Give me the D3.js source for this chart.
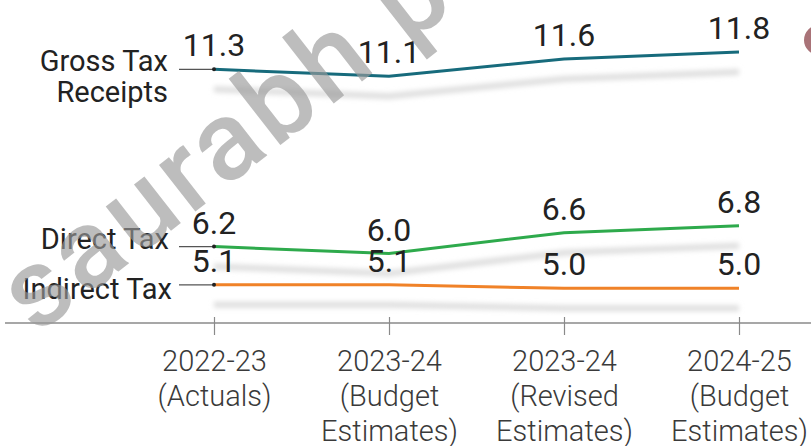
<!DOCTYPE html>
<html>
<head>
<meta charset="utf-8">
<script src="https://cdn.jsdelivr.net/npm/d3@7"></script>
<style>
  html, body { margin: 0; padding: 0; background: #fff; }
  svg { display: block; }
  text { font-family: Roboto, "Noto Sans", sans-serif; }
</style>
</head>
<body>
<div id="chart"></div>
<script>
// data (per cent of GDP)
var categories = ["2022-23|(Actuals)", "2023-24|(Budget|Estimates)", "2023-24|(Revised|Estimates)", "2024-25|(Budget|Estimates)"];
var seriesNames = ["Gross Tax|Receipts", "Direct Tax", "Indirect Tax"];
var grossTax = [11.3, 11.1, 11.6, 11.8];
var directTax = [6.2, 6.0, 6.6, 6.8];
var indirectTax = [5.1, 5.1, 5.0, 5.0];
var yDomain = [4, 12];

var width = 811,
    height = 446,
    axisY = 323;

var series = [
    { name: seriesNames[0], values: grossTax, color: "#176b7c", labelDy: 2, labelX: 168 },
    { name: seriesNames[1], values: directTax, color: "#2eaa4c", labelDy: 2, labelX: 169 },
    { name: seriesNames[2], values: indirectTax, color: "#f08228", labelDy: 14, labelX: 172 }
];

var svg = d3.select("#chart").append("svg")
    .attr("width", width)
    .attr("height", height);

var defs = svg.append("defs");
defs.append("filter")
    .attr("id", "blur")
    .attr("x", "-10%").attr("y", "-200%")
    .attr("width", "120%").attr("height", "500%")
    .append("feGaussianBlur")
    .attr("stdDeviation", 2.5);

var xScale = d3.scalePoint()
    .domain(categories)
    .range([214, 739]);

var yScale = d3.scaleLinear()
    .domain(yDomain)
    .range([axisY, 45]);

var line = d3.line()
    .x(function (d, i) { return xScale(categories[i]); })
    .y(function (d) { return yScale(d); });

// decoration at top right
svg.append("circle")
    .attr("cx", 819).attr("cy", 40).attr("r", 15)
    .attr("fill", "#a97378");

// soft shadows under the lines
svg.append("g").selectAll("path")
    .data(series)
    .enter().append("path")
    .attr("d", function (d) { return line(d.values); })
    .attr("transform", "translate(0,20)")
    .attr("fill", "none")
    .attr("stroke", "#dedede")
    .attr("stroke-width", 6)
    .attr("filter", "url(#blur)");

// x axis
svg.append("line")
    .attr("x1", 5).attr("x2", width)
    .attr("y1", axisY).attr("y2", axisY)
    .attr("stroke", "#8a8a8a")
    .attr("stroke-width", 1.5);

var xAxis = d3.axisBottom(xScale)
    .tickSize(18)
    .tickPadding(0)
    .tickFormat("");

var gx = svg.append("g")
    .attr("transform", "translate(0," + (axisY - 6) + ")")
    .call(xAxis);
gx.select(".domain").remove();
gx.selectAll(".tick line").attr("stroke", "#8a8a8a").attr("stroke-width", 1.2);

gx.selectAll(".tick").append("text")
    .attr("text-anchor", "middle")
    .attr("fill", "#3a3a3a")
    .attr("font-size", 29)
    .attr("font-weight", 300)
    .selectAll("tspan")
    .data(function (d) { return d.split("|"); })
    .enter().append("tspan")
    .attr("x", 0)
    .attr("y", function (d, i) { return 54 + i * 35; })
    .text(function (d) { return d; });

// leader lines and series names
var labels = svg.append("g");
series.forEach(function (s) {
    var y0 = yScale(s.values[0]);
    labels.append("line")
        .attr("x1", 179).attr("x2", xScale(categories[0]))
        .attr("y1", y0).attr("y2", y0)
        .attr("stroke", "#555")
        .attr("stroke-width", 1.2);
    labels.append("text")
        .attr("text-anchor", "end")
        .attr("fill", "#222")
        .attr("font-size", 29)
        .selectAll("tspan")
        .data(s.name.split("|"))
        .enter().append("tspan")
        .attr("x", s.labelX)
        .attr("y", function (d, i) { return y0 + s.labelDy + i * 31; })
        .text(function (d) { return d; });
});

// lines
svg.append("g").selectAll("path")
    .data(series)
    .enter().append("path")
    .attr("d", function (d) { return line(d.values); })
    .attr("fill", "none")
    .attr("stroke", function (d) { return d.color; })
    .attr("stroke-width", 3);

svg.append("g").selectAll("circle")
    .data(series)
    .enter().append("circle")
    .attr("cx", xScale(categories[0]))
    .attr("cy", function (d) { return yScale(d.values[0]); })
    .attr("r", 2)
    .attr("fill", "#222");

// value labels
series.forEach(function (s) {
    svg.append("g").selectAll("text")
        .data(s.values)
        .enter().append("text")
        .attr("x", function (d, i) { return xScale(categories[i]); })
        .attr("y", function (d) { return yScale(d) - 13; })
        .attr("text-anchor", "middle")
        .attr("fill", "#222")
        .attr("font-size", 32)
        .text(function (d) { return d.toFixed(1); });
});

// watermark
svg.append("text")
    .attr("transform", "translate(36,336) rotate(-38)")
    .attr("font-weight", 500)
    .attr("font-size", 112)
    .attr("letter-spacing", 5)
    .attr("fill", "#9a9a9a")
    .attr("fill-opacity", 0.65)
    .text("saurabh pandey");
</script>
</body>
</html>
